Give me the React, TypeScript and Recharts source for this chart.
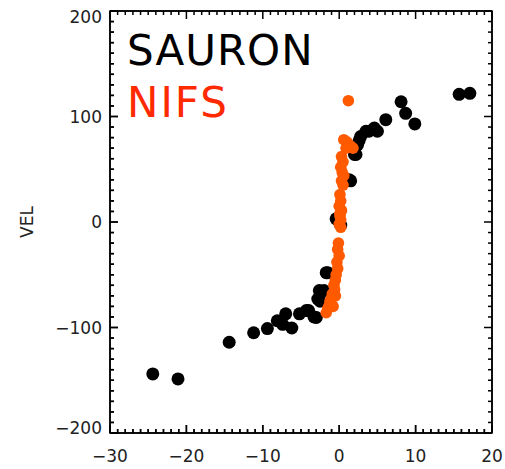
import React from 'react';
import { ScatterChart, Scatter, XAxis, YAxis, ReferenceArea } from 'recharts';

const sauronX = [-24.4, -21.1, -14.4, -11.2, -9.4, -8.1, -7.0, -7.4, -6.2, -5.2, -4.0, -3.0, -3.3, -4.3, -2.5, -2.8, -2.6, -2.0, -1.7, -1.5, -0.4, 0.0, 0.2, 1.3, 1.5, 2.0, 2.2, 2.4, 2.6, 2.8, 3.5, 3.9, 4.6, 5.0, 6.1, 8.1, 8.7, 9.9, 15.7, 17.1];
const sauronY = [-144, -148.7, -114, -105, -101, -93.6, -87, -97, -100.5, -87, -84, -90.5, -90, -84, -75, -73, -65, -65, -48, -48, 3, 0, -3, 40, 39, 64, 64, 73, 77, 81, 86, 86, 89, 86, 97, 114, 103, 93, 121, 122];

const nifsX = [1.2, 0.6, 1.0, 1.5, 1.8, 0.9, 0.3, 0.5, 0.2, 0.4, 0.6, 0.3, 0.5, 0.1, 0.2, 0.0, 0.3, 0.1, 0.2, 0.1, 0.0, 0.2, -0.1, -0.2, 0.0, -0.3, -0.2, -0.4, -0.5, -0.7, -0.6, -0.9, -1.0, -1.2, -1.3, -1.5, -1.7, -0.5, -0.8];
const nifsY = [115, 78, 76, 72, 70, 70, 62, 57, 52, 47, 44, 39, 35, 26, 20, 15, 11, 6, 2, 8, -2, -5, -20, -26, -32, -38, -44, -50, -55, -60, -64, -68, -72, -75, -79, -82, -86, -70, -80];

const xTicks: number[] = [];
for (let v = -30; v <= 20; v += 1) xTicks.push(v);
const yTicks: number[] = [];
for (let v = -200; v <= 200; v += 10) yTicks.push(v);

const sauron = sauronX.map((x, i) => ({ x, y: sauronY[i] }));
const nifs = nifsX.map((x, i) => ({ x, y: nifsY[i] }));

const FONT = 'DejaVu Sans';
const LABEL_COLOR = '#222';

// layout constants
const CHART_W = 505;
const CHART_H = 469;
const M_TOP = 10;
const M_RIGHT = 12;
const TOP_H = 1;
const BOTTOM_TICK_H = 1;
const BOTTOM_LABEL_H = 35;
const LEFT_TICK_W = 1;
const LEFT_LABEL_W = 109;
const RIGHT_W = 1;
const PLOT_H = CHART_H - M_TOP - TOP_H - BOTTOM_TICK_H - BOTTOM_LABEL_H;
const PLOT_W = CHART_W - M_RIGHT - RIGHT_W - LEFT_TICK_W - LEFT_LABEL_W;

const fmt = (v: number) => (v < 0 ? '\u2212' + Math.abs(v) : String(v));

const BottomLabel = (props: any) => {
  const { x, y, payload } = props;
  const v = payload.value;
  if (v % 10 !== 0) return <g />;
  return (
    <text x={x} y={y + 28} textAnchor="middle" fontFamily={FONT} fontSize={17} fill={LABEL_COLOR}>
      {fmt(v)}
    </text>
  );
};

const LeftLabel = (props: any) => {
  const { x, y, payload } = props;
  const v = payload.value;
  if (v % 100 !== 0) return <g />;
  let dy = 0;
  if (v === 200) dy = 6;
  if (v === -200) dy = -5;
  return (
    <text x={x - 7} y={y + dy + 6} textAnchor="end" fontFamily={FONT} fontSize={17} fill={LABEL_COLOR}>
      {fmt(v)}
    </text>
  );
};

const BottomTick = (props: any) => {
  const { x, y, payload } = props;
  const major = payload.value % 10 === 0;
  return <path d={`M${x},${y}L${x},${y - (major ? 8 : 4)}`} stroke="#000" strokeWidth={1.5} fill="none" />;
};

// top axis draws its own inward ticks and the matching inward ticks on the bottom edge
const TopTick = (props: any) => {
  const { x, y, payload } = props;
  const len = payload.value % 10 === 0 ? 8 : 4;
  const yb = y + PLOT_H;
  return (
    <g>
      <path d={`M${x},${y}L${x},${y + len}`} stroke="#000" strokeWidth={1.5} fill="none" />
      <path d={`M${x},${yb}L${x},${yb - len}`} stroke="#000" strokeWidth={1.5} fill="none" />
    </g>
  );
};

const LeftTick = (props: any) => {
  const { x, y, payload } = props;
  const major = payload.value % 100 === 0;
  return <path d={`M${x},${y}L${x + (major ? 8 : 4)},${y}`} stroke="#000" strokeWidth={1.5} fill="none" />;
};

// right axis draws its own inward ticks and the matching inward ticks on the left edge
const RightTick = (props: any) => {
  const { x, y, payload } = props;
  const len = payload.value % 100 === 0 ? 8 : 4;
  const xl = x - PLOT_W;
  return (
    <g>
      <path d={`M${x},${y}L${x - len},${y}`} stroke="#000" strokeWidth={1.5} fill="none" />
      <path d={`M${xl},${y}L${xl + len},${y}`} stroke="#000" strokeWidth={1.5} fill="none" />
    </g>
  );
};

const BlackDot = (props: any) => <circle cx={props.cx} cy={props.cy} r={6.5} fill="#000" />;
const OrangeDot = (props: any) => <circle cx={props.cx} cy={props.cy} r={5.8} fill="#ff5a00" />;
const NoDot = () => <g />;

const common = { type: 'number' as const, interval: 0 as const, tickSize: 0.01, tickMargin: 0, tickLine: false, allowDataOverflow: true };

export default function App() {
  return (
    <div style={{ position: 'absolute', left: 0, top: 0, width: CHART_W, height: CHART_H, background: '#fff' }}>
      <ScatterChart width={CHART_W} height={CHART_H} margin={{ top: M_TOP, right: M_RIGHT, bottom: 0, left: 0 }}>
        <XAxis {...common} xAxisId="xb0" dataKey="x" domain={[-30, 20]} ticks={xTicks} orientation="bottom" height={BOTTOM_TICK_H} tick={<BottomTick />} axisLine={{ stroke: '#000', strokeWidth: 1.5 }} />
        <XAxis {...common} xAxisId="xb1" dataKey="x" domain={[-30, 20]} ticks={xTicks} orientation="bottom" height={BOTTOM_LABEL_H} tick={<BottomLabel />} axisLine={false} />
        <XAxis {...common} xAxisId="xt0" dataKey="x" domain={[-30, 20]} ticks={xTicks} orientation="top" height={TOP_H} tick={<TopTick />} axisLine={{ stroke: '#000', strokeWidth: 1.5 }} />
        <YAxis {...common} yAxisId="yl0" dataKey="y" domain={[-200, 200]} ticks={yTicks} orientation="left" width={LEFT_TICK_W} tick={<LeftTick />} axisLine={{ stroke: '#000', strokeWidth: 1.5 }} />
        <YAxis {...common} yAxisId="yl1" dataKey="y" domain={[-200, 200]} ticks={yTicks} orientation="left" width={LEFT_LABEL_W} tick={<LeftLabel />} axisLine={false} />
        <YAxis {...common} yAxisId="yr0" dataKey="y" domain={[-200, 200]} ticks={yTicks} orientation="right" width={RIGHT_W} tick={<RightTick />} axisLine={{ stroke: '#000', strokeWidth: 1.5 }} />
        <ReferenceArea xAxisId="xb1" yAxisId="yl1" x1={-30} x2={20} y1={-200} y2={200} fill="none" fillOpacity={0} stroke="#000" strokeWidth={1.5} ifOverflow="visible" />
        <Scatter data={sauron} xAxisId="xt0" yAxisId="yr0" shape={<NoDot />} isAnimationActive={false} />
        <Scatter data={sauron} xAxisId="xb0" yAxisId="yl0" shape={<NoDot />} isAnimationActive={false} />
        <Scatter data={sauron} xAxisId="xb1" yAxisId="yl1" shape={<BlackDot />} isAnimationActive={false} />
        <Scatter data={nifs} xAxisId="xb1" yAxisId="yl1" shape={<OrangeDot />} isAnimationActive={false} />
      </ScatterChart>
      <svg width={CHART_W} height={CHART_H} style={{ position: 'absolute', left: 0, top: 0, pointerEvents: 'none' }}>
        <text x={33} y={222} transform="rotate(-90 33 222)" textAnchor="middle" fontFamily={FONT} fontSize={17} fill={LABEL_COLOR}>
          VEL
        </text>
        <text x={127} y={65} fontFamily={FONT} fontSize={42} fill="#000" letterSpacing={1}>
          SAURON
        </text>
        <text x={127} y={117} fontFamily={FONT} fontSize={42} fill="#ff2a00" letterSpacing={2}>
          NIFS
        </text>
      </svg>
    </div>
  );
}
